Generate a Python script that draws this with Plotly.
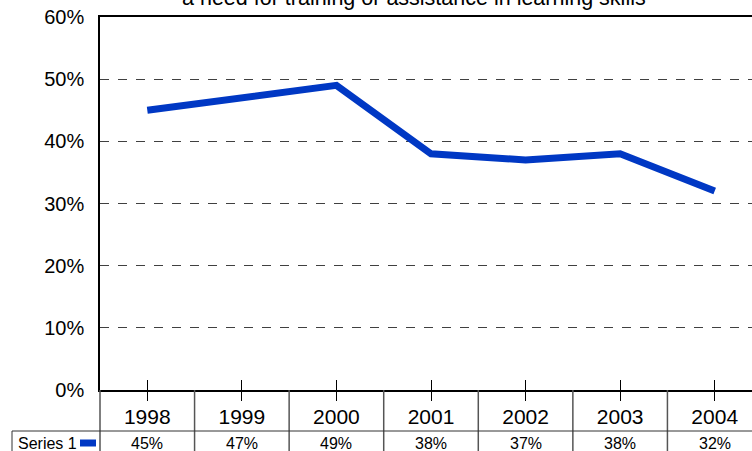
import plotly.graph_objects as go

years = ["1998", "1999", "2000", "2001", "2002", "2003", "2004"]
values = [0.45, 0.47, 0.49, 0.38, 0.37, 0.38, 0.32]
series_name = "Series 1"
title_text = "a need for training or assistance in learning skills"

FONT = "Arial, Liberation Sans, sans-serif"
BLUE = "#0038C4"

W, H = 752, 451
ML, MR, MT, MB = 100, 0, 17, 451 - 390
pw = W - ML - MR
ph = H - MT - MB

def py(ref_pix):
    return (390 - ref_pix) / ph

def px(ref_pix):
    return (ref_pix - 100) / pw

n = len(years)
xr = [-0.5, -0.5 + n * pw / 662.0]

fig = go.Figure()
fig.add_trace(go.Scatter(
    x=years, y=values, mode="lines",
    line=dict(color=BLUE, width=7),
    showlegend=False, hoverinfo="skip",
))
fig.add_trace(go.Scatter(x=years, y=values, xaxis="x2", mode="lines",
                         line=dict(width=0), showlegend=False, hoverinfo="skip"))

shapes = []
annotations = []
for i in range(n - 1):
    shapes.append(dict(type="line", xref="x", yref="paper",
                       x0=i + 0.5, x1=i + 0.5, y0=0, y1=py(452),
                       line=dict(color="#555555", width=1.5)))
shapes.append(dict(type="line", xref="paper", yref="paper", x0=0, x1=0,
                   y0=0, y1=py(452), line=dict(color="#555555", width=1.5)))
shapes.append(dict(type="line", xref="paper", yref="paper", x0=px(12), x1=1,
                   y0=py(431), y1=py(431), line=dict(color="#333333", width=1)))
shapes.append(dict(type="line", xref="paper", yref="paper", x0=px(12), x1=px(12),
                   y0=py(431), y1=py(452), line=dict(color="#333333", width=1)))
shapes.append(dict(type="line", xref="paper", yref="paper", x0=px(80), x1=px(96),
                   y0=py(443), y1=py(443), line=dict(color=BLUE, width=7)))

for i, v in enumerate(values):
    annotations.append(dict(x=i, xref="x", y=py(443), yref="paper",
                            text=f"{round(v*100)}%", showarrow=False,
                            font=dict(family=FONT, size=16, color="black"),
                            xanchor="center", yanchor="middle"))
annotations.append(dict(x=px(16), xref="paper", y=py(443), yref="paper",
                        text=series_name, showarrow=False,
                        font=dict(family=FONT, size=16, color="black"),
                        xanchor="left", yanchor="middle"))
annotations.append(dict(x=px(414), xref="paper", y=py(-2.5), yref="paper",
                        text=title_text, showarrow=False,
                        font=dict(family=FONT, size=21.5, color="black"),
                        xanchor="center", yanchor="middle"))

fig.update_layout(
    width=W, height=H,
    margin=dict(l=ML, r=MR, t=MT, b=MB),
    paper_bgcolor="white", plot_bgcolor="white",
    font=dict(family=FONT, color="black"),
    shapes=shapes, annotations=annotations,
    xaxis=dict(type="category", range=xr, showgrid=False, zeroline=False,
               showline=True, mirror=True, linecolor="black", linewidth=1.5,
               ticks="inside", ticklen=10, tickcolor="black", tickwidth=1,
               tickfont=dict(family=FONT, size=21, color="black"),
               ticklabelstandoff=7),
    xaxis2=dict(type="category", range=xr, overlaying="x", anchor="y", side="bottom",
                showgrid=False, showline=False, zeroline=False,
                ticks="outside", ticklen=10, tickcolor="black", tickwidth=1,
                showticklabels=False),
    yaxis=dict(range=[0, 0.6], dtick=0.1, tickformat=".0%",
               showgrid=True, gridcolor="#404040", griddash="dash", gridwidth=1,
               zeroline=False, showline=True, linecolor="black", linewidth=1.5,
               ticks="", tickfont=dict(family=FONT, size=20, color="black"),
               ticklabelstandoff=10, ticklabeloverflow="allow"),
)

fig.write_html("out.html",
               config={"displayModeBar": False},
               post_script="document.body.style.margin='0';document.body.style.overflow='hidden';")
